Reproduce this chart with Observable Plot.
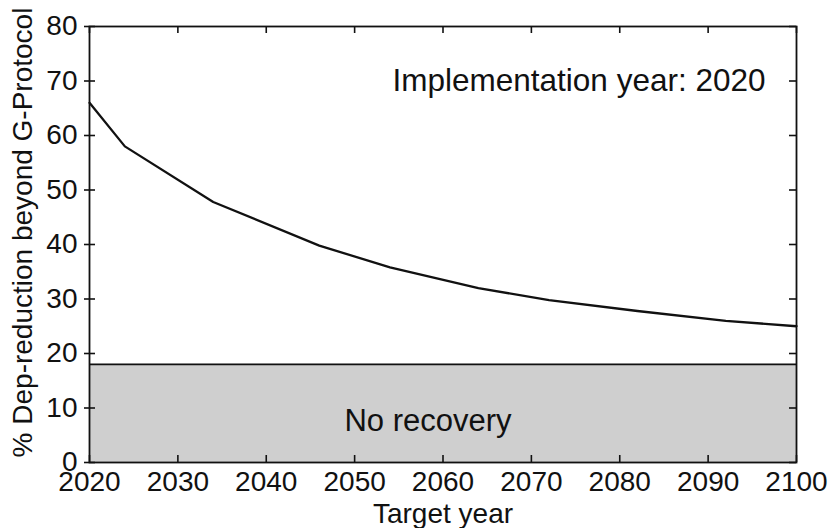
<!DOCTYPE html>
<html>
<head>
<meta charset="utf-8">
<script src="https://cdn.jsdelivr.net/npm/d3@7"></script>
<script src="https://cdn.jsdelivr.net/npm/@observablehq/plot@0.6"></script>
<style>
  html, body { margin: 0; padding: 0; background: white; }
</style>
</head>
<body>
<div id="chart"></div>
<script>
// Data
const targetYears = [2020, 2024, 2034, 2046, 2054, 2064, 2072, 2082, 2092, 2100];
const depReduction = [66, 58, 47.8, 39.8, 35.8, 32, 29.8, 27.8, 26, 25];
const noRecoveryLevel = 18;
const xDomain = [2020, 2100];
const yDomain = [0, 80];
const xTicks = [2020, 2030, 2040, 2050, 2060, 2070, 2080, 2090, 2100];
const yTicks = [0, 10, 20, 30, 40, 50, 60, 70, 80];
const annotationText = "Implementation year: 2020";
const regionText = "No recovery";
const xTitle = "Target year";
const yTitle = "% Dep-reduction beyond G-Protocol";

const lineData = targetYears.map((x, i) => ({x, y: depReduction[i]}));
const regionData = [{x1: xDomain[0], x2: xDomain[1], y1: yDomain[0], y2: noRecoveryLevel}];

const ink = "#111";

const chart = Plot.plot({
  width: 828,
  height: 528,
  marginLeft: 89,
  marginRight: 32,
  marginTop: 26,
  marginBottom: 66,
  x: {domain: xDomain, label: null},
  y: {domain: yDomain, label: null},
  style: {fontFamily: "'Liberation Sans', Arial, Helvetica, sans-serif", fontSize: "28px", color: ink, background: "white"},
  marks: [
    Plot.rect(regionData, {x1: "x1", x2: "x2", y1: "y1", y2: "y2", fill: "#cfcfcf"}),
    Plot.ruleY([noRecoveryLevel], {stroke: ink, strokeWidth: 1.6}),
    Plot.line(lineData, {x: "x", y: "y", stroke: ink, strokeWidth: 2.3}),
    Plot.frame({stroke: ink, strokeWidth: 1.8}),
    // inward ticks on all four sides
    Plot.ruleX(xTicks, {x: d => d, y1: yDomain[0], y2: yDomain[0], insetBottom: 7, stroke: ink, strokeWidth: 1.6}),
    Plot.ruleX(xTicks, {x: d => d, y1: yDomain[1], y2: yDomain[1], insetTop: 7, stroke: ink, strokeWidth: 1.6}),
    Plot.ruleY(yTicks, {y: d => d, x1: xDomain[0], x2: xDomain[0], insetRight: -6, stroke: ink, strokeWidth: 1.6}),
    Plot.ruleY(yTicks, {y: d => d, x1: xDomain[1], x2: xDomain[1], insetLeft: -7, stroke: ink, strokeWidth: 1.6}),
    // bottom labels
    Plot.axisX({ticks: xTicks, anchor: "bottom", tickSize: 0, tickPadding: 9, tickFormat: d => String(d), label: null, fontSize: 28, fill: ink}),
    // left axis: outward ticks + labels
    Plot.axisY({ticks: yTicks, anchor: "left", tickSize: 5, tickPadding: 7, label: null, fontSize: 28, fill: ink, strokeWidth: 1.6, stroke: ink}),
    // annotations
    Plot.text([annotationText], {frameAnchor: "top-right", textAnchor: "end", lineAnchor: "middle", dx: -31, dy: 54, fontSize: 31.5, fill: ink}),
    Plot.text([regionText], {frameAnchor: "bottom", textAnchor: "middle", lineAnchor: "middle", dx: -15, dy: -41, fontSize: 31, fill: ink}),
    // axis titles
    Plot.text([xTitle], {frameAnchor: "bottom", textAnchor: "middle", lineAnchor: "middle", dy: 52, fontSize: 28, fill: ink}),
    Plot.text([yTitle], {frameAnchor: "left", textAnchor: "middle", lineAnchor: "middle", rotate: -90, dx: -66, dy: -12, fontSize: 28, fill: ink})
  ]
});
document.getElementById("chart").appendChild(chart);
</script>
</body>
</html>
